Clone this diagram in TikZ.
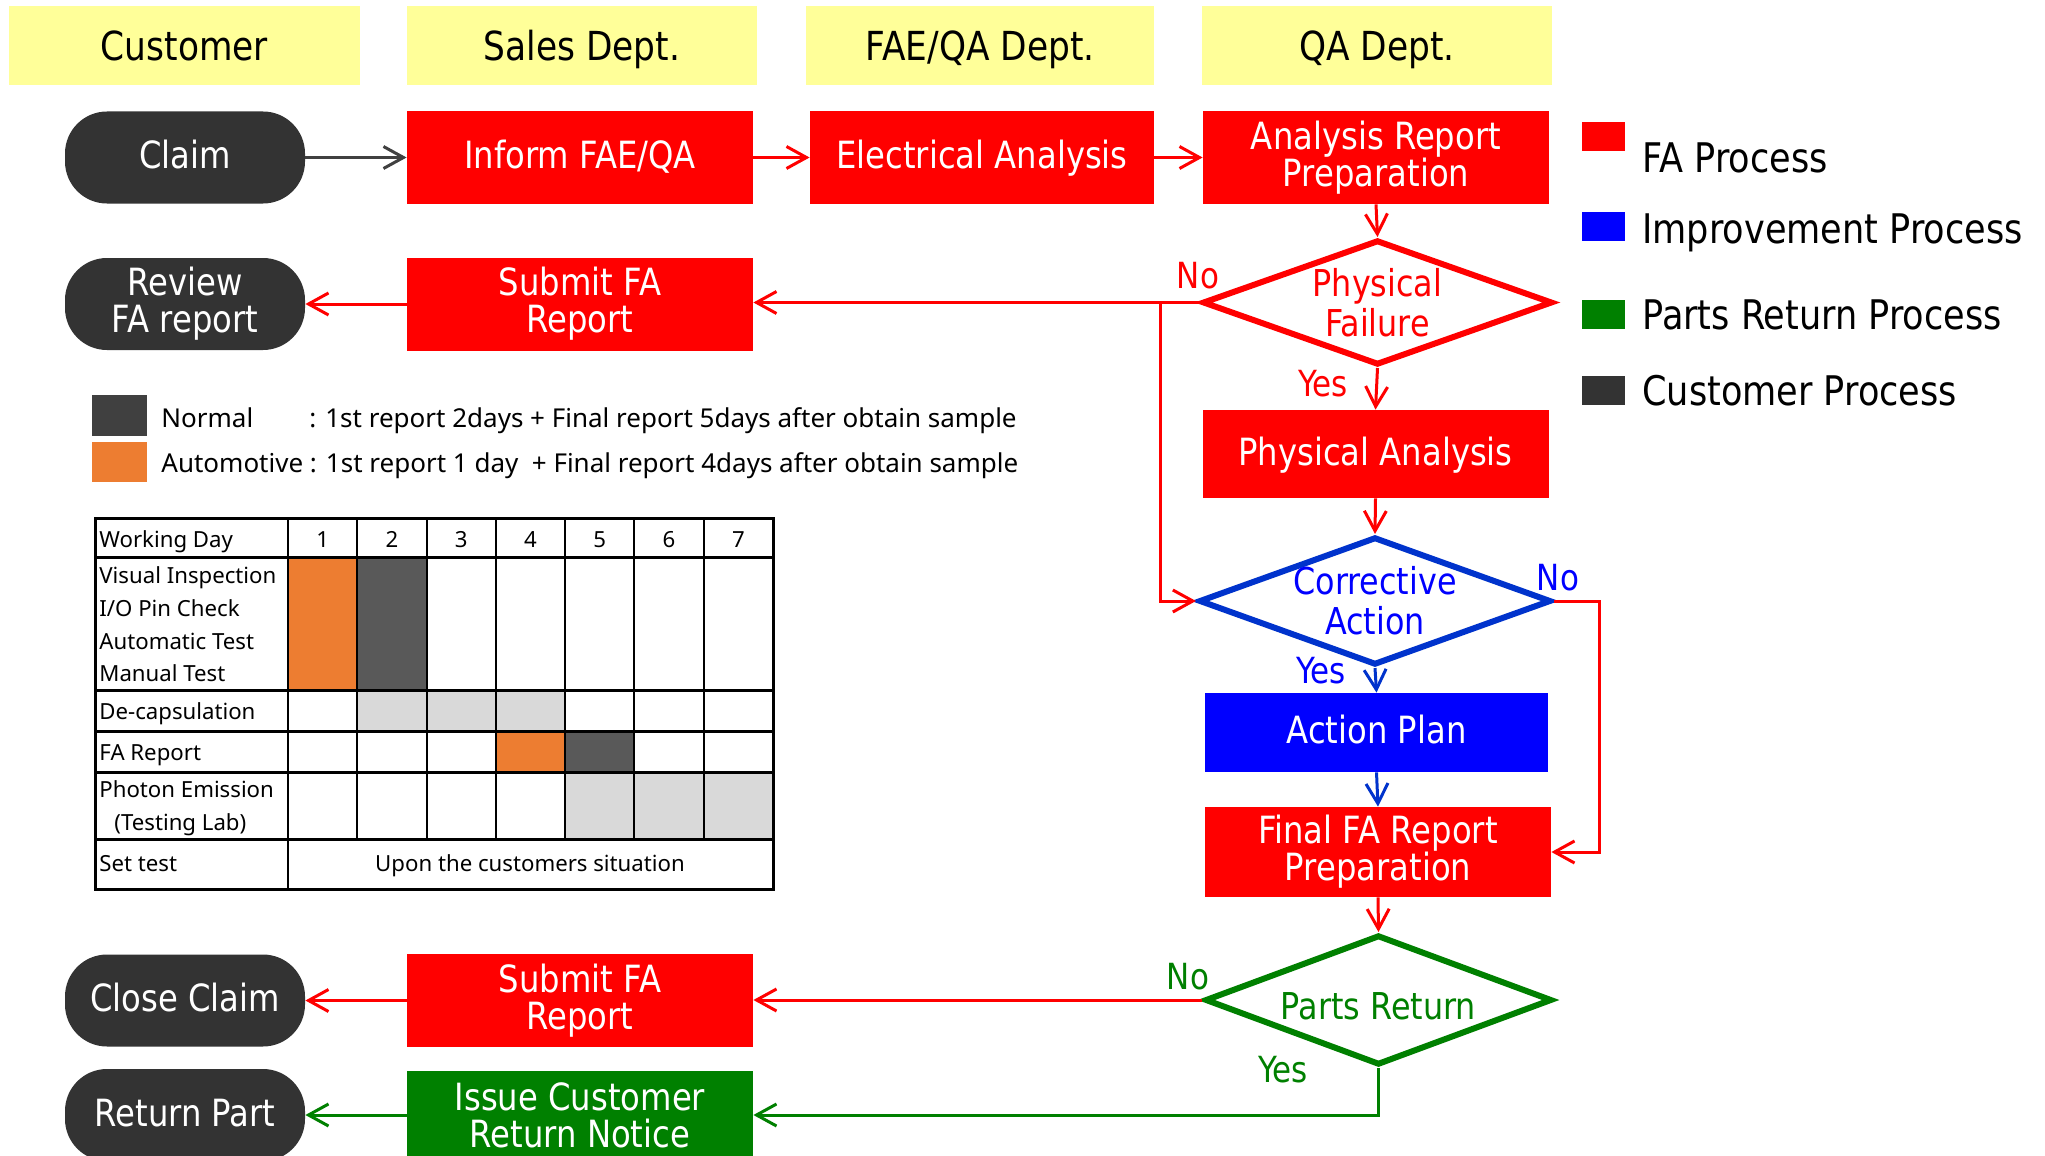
\documentclass[tikz,border=0pt]{standalone}
\usepackage{fontspec}
\setmainfont[FakeStretch=0.86]{DejaVu Sans}
\newfontfamily\tfont{Noto Sans}
\usetikzlibrary{shapes.geometric,arrows.meta}
\definecolor{fared}{RGB}{255,0,0}
\definecolor{impblue}{RGB}{0,0,255}
\definecolor{diablue}{RGB}{0,51,204}
\definecolor{prgreen}{RGB}{0,128,0}
\definecolor{custgray}{RGB}{51,51,51}
\definecolor{hdryellow}{RGB}{255,255,153}
\definecolor{arrgray}{RGB}{64,64,64}
\definecolor{autoorange}{RGB}{237,125,49}
\definecolor{normgray}{RGB}{89,89,89}
\definecolor{lgray}{RGB}{217,217,217}
\definecolor{legdark}{RGB}{64,64,64}
\begin{document}
\begin{tikzpicture}[x=0.5pt,y=-0.5pt,
  hdr/.style={fill=hdryellow, minimum width=175pt, minimum height=39.5pt, inner sep=0,
    font={\fontsize{20}{22}\selectfont}, text height=14.6pt, text depth=0pt},
  fabox/.style={fill=fared, text=white, minimum width=173pt, minimum height=46.5pt, inner sep=0,
    align=center, font={\fontsize{18.75}{18.5}\selectfont}},
  pill/.style={fill=custgray, text=white, rounded corners=21pt, minimum width=120pt,
    minimum height=46pt, inner sep=0, align=center, font={\fontsize{18.75}{18.5}\selectfont}},
  oneline/.style={text height=11pt, text depth=0pt},
  dia/.style={diamond, draw=#1, text=#1, line width=3pt, fill=white, inner sep=0,
    shape aspect=2.75, align=center, font={\fontsize{18.5}{20}\selectfont}},
  yn/.style={text=#1, inner sep=0, font={\fontsize{18}{20}\selectfont}, text height=13.1pt, text depth=0pt},
  conn/.style={draw=#1, line width=1.5pt, -{Straight Barb[length=10pt,width=11pt]}},
  tcell/.style={inner sep=0, font={\tfont\fontsize{11.1}{13}\selectfont}, text height=7.9pt, text depth=0pt},
  lgtext/.style={inner sep=0, font={\tfont\fontsize{13}{15}\selectfont}},
  rlg/.style={inner sep=0, anchor=base west, font={\fontsize{20.4}{22}\selectfont}},
  grid/.style={line width=1pt, draw=black},
  gridthick/.style={line width=1.5pt, draw=black}
]
\useasboundingbox (0,0) rectangle (2045,1156);
\fill[white] (0,0) rectangle (2045,1156);

% headers
\node[hdr, minimum width=175.5pt] (hC) at (184.5,45.5) {Customer};
\node[hdr] (hS) at (582,45.5) {Sales Dept.};
\node[hdr, minimum width=174pt] (hF) at (980,45.5) {FAE/QA Dept.};
\node[hdr] (hQ) at (1377,45.5) {QA Dept.};

% row 1
\node[pill, oneline] (claim) at (185,157.5) {Claim};
\node[fabox, oneline] (inform) at (580,157.5) {Inform FAE/QA};
\node[fabox, oneline, minimum width=172pt] (elec) at (982,157.5) {Electrical Analysis};
\node[fabox] (arp) at (1376,157.5) {Analysis Report\\Preparation};

% physical failure
\node[dia=fared, minimum width=175pt, minimum height=62.5pt] (pf) at (1377.5,302.5) {Physical\\Failure};

% row 2
\node[pill] (rev) at (185,304) {Review\\FA report};
\node[fabox] (sub1) at (580,304) {Submit FA\\Report};

\node[fabox, oneline, minimum height=44pt] (pa) at (1375.5,454) {Physical Analysis};
\node[dia=diablue, text=impblue, minimum width=173pt, minimum height=62pt] (ca) at (1375,601) {Corrective\\Action};
\node[fabox, oneline, fill=impblue, minimum width=171.5pt, minimum height=39.5pt] (ap) at (1376.5,732.5) {Action Plan};
\node[fabox, minimum height=45pt] (fin) at (1378,852) {Final FA Report\\Preparation};
\node[dia=prgreen, text height=19.5pt, text depth=0pt, minimum width=173.5pt, minimum height=65pt] (pr) at (1378.5,1000) {Parts Return};

% bottom rows
\node[pill, oneline] (close) at (185,1000.5) {Close Claim};
\node[fabox] (sub2) at (580,1000.5) {Submit FA\\Report};
\node[pill, oneline] (ret) at (185,1115) {Return Part};
\node[fabox, fill=prgreen, minimum height=44pt] (iss) at (580,1115) {Issue Customer\\Return Notice};

% connectors
\coordinate (brk) at (1160,0);
\coordinate (rgt) at (1599,0);
\draw[conn=arrgray] (claim.east) -- (inform.west);
\draw[conn=fared] (inform.east) -- (elec.west);
\draw[conn=fared] (elec.east) -- (arp.west);
\draw[conn=fared] (arp.south) -- (pf.north);
\draw[conn=fared] (pf.west) -- (pf.west -| sub1.east);
\draw[conn=fared] (sub1.west) -- (rev.east);
\draw[conn=fared] (brk |- pf.west) -- (brk |- ca.west) -- (ca.west);
\draw[conn=fared] (pf.south) -- (pa.north);
\draw[conn=fared] (pa.south) -- (ca.north);
\draw[conn=fared] (ca.east) -- (rgt |- ca.east) -- (rgt |- fin.east) -- (fin.east);
\draw[conn=diablue] (ca.south) -- (ap.north);
\draw[conn=diablue] (ap.south) -- (fin.north);
\draw[conn=fared] (fin.south) -- (pr.north);
\draw[conn=fared] (pr.west) -- (pr.west -| sub2.east);
\draw[conn=fared] (sub2.west) -- (close.east);
\draw[conn=prgreen] (pr.south) -- (pr.south |- iss.east) -- (iss.east);
\draw[conn=prgreen] (iss.west) -- (ret.east);

% yes / no labels
\node[yn=fared] (pfno) at (1198,275) {No};
\node[yn=fared] (pfyes) at (1323,383) {Yes};
\node[yn=impblue] (cano) at (1558,577) {No};
\node[yn=impblue] (cayes) at (1321,670) {Yes};
\node[yn=prgreen] (prno) at (1188,976) {No};
\node[yn=prgreen] (pryes) at (1283,1069) {Yes};

% right legend
\fill[fared] (1582,122) rectangle (1625,151);
\fill[impblue] (1582,212) rectangle (1625,241);
\fill[prgreen] (1582,300) rectangle (1625,329);
\fill[custgray] (1582,376) rectangle (1625,405);
\node[rlg] (lg1) at (1642,172) {FA Process};
\node[rlg] (lg2) at (1642,243) {Improvement Process};
\node[rlg] (lg3) at (1642,329) {Parts Return Process};
\node[rlg] (lg4) at (1642,405) {Customer Process};

% schedule legend
\fill[legdark] (92,395) rectangle (147,436);
\fill[autoorange] (92,442) rectangle (147,482);
\node[lgtext, anchor=base west] (nm) at (161,427) {Normal};
\node[lgtext, anchor=base west] (nmd) at (309,427) {: 1st report 2days + Final report 5days after obtain sample};
\node[lgtext, anchor=base west] (au) at (161,472) {Automotive : 1st report 1 day\ \ + Final report 4days after obtain sample};

% table fills
\fill[autoorange] (288,557) rectangle (357.3,690);
\fill[normgray] (357.3,557) rectangle (426.6,690);
\fill[lgray] (357.3,690) rectangle (565.1,731);
\fill[autoorange] (495.9,731) rectangle (565.1,772);
\fill[normgray] (565.1,731) rectangle (634.4,772);
\fill[lgray] (565.1,772) rectangle (773,839);
% table grid
\foreach \yy in {557,690,731,772,839} \draw[gridthick] (95,\yy) -- (773,\yy);
\draw[grid] (288,518) -- (288,889);
\foreach \xx in {357.3,426.6,495.9,565.1,634.4,703.7} \draw[grid] (\xx,518) -- (\xx,839);
\draw[gridthick] (95,518) rectangle (773,889);
% table text
\foreach \xx/\n in {322.6/1,392/2,461.2/3,530.5/4,599.8/5,669/6,738.4/7}
  \node[tcell] (d\n) at (\xx,540) {\n};
\node[tcell, anchor=west] (r0) at (99,540) {Working Day};
\node[tcell, anchor=west] (r1) at (99,576) {Visual Inspection};
\node[tcell, anchor=west] (r2) at (99,609) {I/O Pin Check};
\node[tcell, anchor=west] (r3) at (99,642) {Automatic Test};
\node[tcell, anchor=west] (r4) at (99,674) {Manual Test};
\node[tcell, anchor=west] (r5) at (99,712) {De-capsulation};
\node[tcell, anchor=west] (r6) at (99,753) {FA Report};
\node[tcell, anchor=west] (r7) at (99,790) {Photon Emission};
\node[tcell, anchor=west] (r8) at (114,823) {(Testing Lab)};
\node[tcell, anchor=west] (r9) at (99,864) {Set test};
\node[tcell] (r10) at (530,864) {Upon the customers situation};
\end{tikzpicture}
\end{document}
